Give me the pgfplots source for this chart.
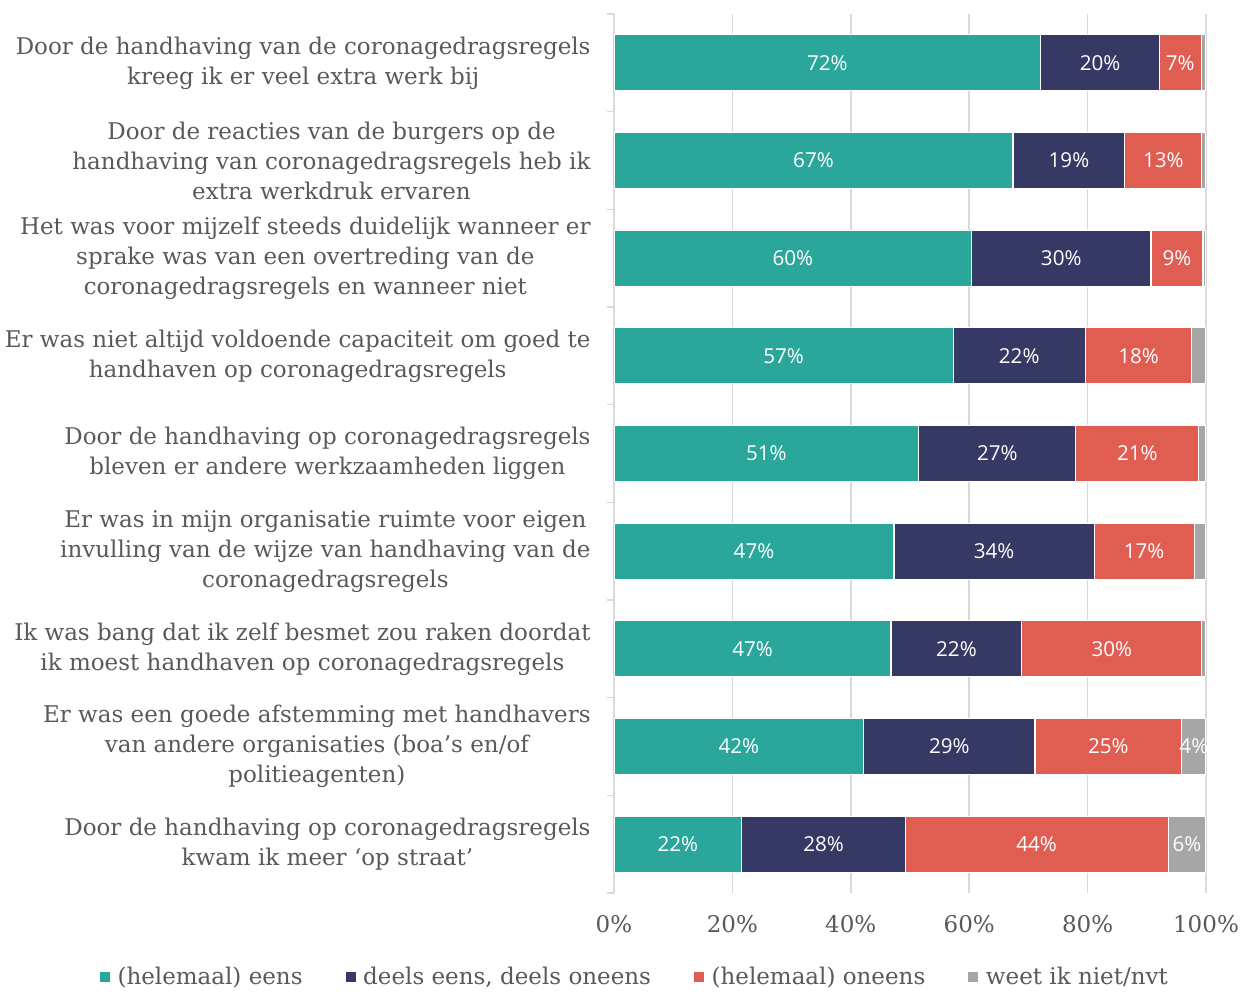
\documentclass[border=0pt]{standalone}
\usepackage{pgfplots}
\pgfplotsset{compat=1.18}
\usepackage{fontspec}
\setmainfont{DejaVu Serif}
\newfontfamily\barfont{Open Sans}
\definecolor{cteal}{HTML}{2AA69B}
\definecolor{cnavy}{HTML}{363964}
\definecolor{cred}{HTML}{E05D52}
\definecolor{cgray}{HTML}{A6A6A6}
\definecolor{ctext}{HTML}{595959}
\definecolor{cgrid}{HTML}{D9D9D9}

\begin{document}
\begin{tikzpicture}
\begin{axis}[
  scale only axis,
  width=296pt, height=439.5pt,
  xbar stacked,
  bar width=28pt,
  xmin=0, xmax=100,
  ymin=0.5, ymax=9.5,
  y dir=reverse,
  enlargelimits=false,
  axis lines*=left,
  axis line style={-},
  x axis line style={draw=none},
  y axis line style={cgrid, line width=0.75pt},
  xmajorgrids,
  grid style={cgrid, line width=0.75pt},
  xtick={0,20,...,100},
  xticklabels={0\%,20\%,40\%,60\%,80\%,100\%},
  ytick={1,...,9},
  yticklabels={
    {Door de handhaving van de coronagedragsregels\\kreeg ik er veel extra werk bij},
    {Door de reacties van de burgers op de\\handhaving van coronagedragsregels heb ik\\extra werkdruk ervaren},
    {Het was voor mijzelf steeds duidelijk wanneer er\\sprake was van een overtreding van de\\coronagedragsregels en wanneer niet},
    {Er was niet altijd voldoende capaciteit om goed te\\handhaven op coronagedragsregels},
    {Door de handhaving op coronagedragsregels\\bleven er andere werkzaamheden liggen},
    {Er was in mijn organisatie ruimte voor eigen\\invulling van de wijze van handhaving van de\\coronagedragsregels},
    {Ik was bang dat ik zelf besmet zou raken doordat\\ik moest handhaven op coronagedragsregels},
    {Er was een goede afstemming met handhavers\\van andere organisaties (boa’s en/of\\politieagenten)},
    {Door de handhaving op coronagedragsregels\\kwam ik meer ‘op straat’}
  },
  minor ytick={0.5,1.5,...,9.5},
  major tick length=0pt,
  minor tick length=3.5pt,
  tick align=outside,
  minor tick style={cgrid, line width=0.75pt},
  xtick style={draw=none},
  yticklabel style={align=center, font=\fontsize{11.5}{15}\selectfont, text=ctext, inner sep=0pt, xshift=-11.5pt},
  xticklabel style={font=\fontsize{11.5}{13}\selectfont, text=ctext, inner sep=0pt, yshift=-11pt},
  point meta=explicit symbolic,
  nodes near coords={\pgfplotspointmeta},
  every node near coord/.append style={anchor=center, font=\barfont\fontsize{10.3}{12}\selectfont, text=white, inner sep=0pt},
  legend columns=4,
  legend style={draw=none, at={(0.037,-0.0956)}, anchor=center, font=\fontsize{11.5}{13}\selectfont, text=ctext,
    /tikz/every even column/.append style={column sep=19.5pt}},
  legend image code/.code={\fill[#1,draw=none] (0pt,-2.5pt) rectangle (5pt,2.5pt); \path (6.5pt,0pt);},
]
\addplot[fill=cteal, draw=white, line width=0.6pt] coordinates {
  (72.1,1) [72\%] (67.4,2) [67\%] (60.4,3) [60\%] (57.3,4) [57\%] (51.5,5) [51\%]
  (47.3,6) [47\%] (46.8,7) [47\%] (42.2,8) [42\%] (21.6,9) [22\%]};
\addplot[fill=cnavy, draw=white, line width=0.6pt] coordinates {
  (20.0,1) [20\%] (18.9,2) [19\%] (30.3,3) [30\%] (22.3,4) [22\%] (26.5,5) [27\%]
  (33.8,6) [34\%] (22.1,7) [22\%] (28.9,8) [29\%] (27.6,9) [28\%]};
\addplot[fill=cred, draw=white, line width=0.6pt] coordinates {
  (7.1,1) [7\%] (13.0,2) [13\%] (8.8,3) [9\%] (18.0,4) [18\%] (20.8,5) [21\%]
  (16.9,6) [17\%] (30.4,7) [30\%] (24.8,8) [25\%] (44.4,9) [44\%]};
\addplot[fill=cgray, draw=white, line width=0.6pt] coordinates {
  (0.8,1) [{}] (0.7,2) [{}] (0.5,3) [{}] (2.4,4) [{}] (1.2,5) [{}]
  (2.0,6) [{}] (0.7,7) [{}] (4.1,8) [4\%] (6.4,9) [6\%]};
\legend{(helemaal) eens, {deels eens, deels oneens}, (helemaal) oneens, weet ik niet/nvt}
\end{axis}
\path (-307pt,-48.5pt) rectangle (319.5pt,446.5pt);
\end{tikzpicture}
\end{document}
